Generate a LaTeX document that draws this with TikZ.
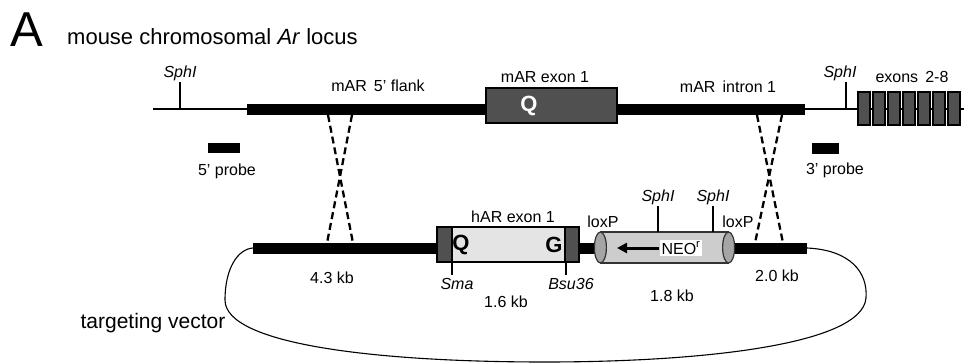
\documentclass[tikz,border=0pt]{standalone}
\usepackage{fontspec}
\setmainfont{Liberation Sans}
\usetikzlibrary{arrows.meta, positioning, calc, shapes.geometric}
\definecolor{exondark}{RGB}{80, 80, 80}
\definecolor{exonlight}{RGB}{228, 228, 228}
\definecolor{neofill}{RGB}{205, 205, 205}
\definecolor{loxfill}{RGB}{165, 165, 165}

\begin{document}
\begin{tikzpicture}[x=1pt, y=-1pt,
  every node/.style={inner sep=0pt, font=\fontsize{16}{18}\selectfont},
  heading/.style={font=\fontsize{22}{26}\selectfont, anchor=west},
  cutsite/.style={font=\fontsize{16}{18}\selectfont\itshape},
  aa/.style={font=\fontsize{22}{24}\selectfont\bfseries},
  chrom/.style={line width=2.8pt},
  arm/.style={line width=11pt},
  exon/.style={draw=black, line width=2pt, fill=exondark},
  hexon/.style={draw=black, line width=2pt, fill=exonlight, minimum width=142pt, minimum height=35pt,
    path picture={
      \fill[exondark] (path picture bounding box.north west) rectangle ([xshift=15pt]path picture bounding box.south west);
      \fill[exondark] ([xshift=-14pt]path picture bounding box.north east) rectangle (path picture bounding box.south east);
      \draw[line width=1.4pt] ([xshift=15pt]path picture bounding box.north west) -- ([xshift=15pt]path picture bounding box.south west);
      \draw[line width=1.4pt] ([xshift=-14pt]path picture bounding box.north east) -- ([xshift=-14pt]path picture bounding box.south east);}},
  neobody/.style={draw=black!80, line width=1.2pt, fill=neofill, minimum width=127pt, minimum height=31pt},
  loxend/.style={ellipse, draw=black!80, line width=1.2pt, fill=loxfill, minimum width=12pt, minimum height=31pt},
  probe/.style={fill=black},
  cuttick/.style={line width=1.7pt},
  xover/.style={line width=2.3pt, dash pattern=on 7pt off 4pt},
  neoarr/.style={-{Triangle[length=10pt, width=10pt]}, line width=3pt},
  vecloop/.style={line width=1.1pt}
]
  \useasboundingbox (0,0) rectangle (964,364);

  \node[font=\fontsize{49}{52}\selectfont] (panel) at (27,30) {A};
  \node[heading] (locus) at (67,37) {mouse chromosomal \textit{Ar} locus};

  % mouse locus
  \coordinate (m0) at (153,109);
  \coordinate (m5) at (247,109);
  \coordinate (m3) at (805,109);
  \coordinate (mend) at (964,109);
  \draw[chrom] (m0) -- (mend);
  \draw[arm] (m5) -- (m3);
  \node[exon, minimum width=131pt, minimum height=35pt] (mex1) at (551.5,105.5) {};
  \node[aa, text=white] (mq) at (529,106) {Q};
  \foreach \i in {0,...,6}
    \node[exon, minimum width=12pt, minimum height=33pt] (ex\i) at (864+15*\i,108.5) {};

  \coordinate (sph1) at (180,109);
  \node[cutsite, anchor=south] (sph1l) at (180,81.5) {SphI};
  \draw[cuttick] (sph1) -- (sph1l.south);
  \coordinate (sph2) at (846,109);
  \node[cutsite, anchor=south] (sph2l) at (840,81.5) {SphI};
  \draw[cuttick] (sph2) -- (sph2 |- sph2l.south);

  \node (flank) at (378,86) {mAR\, 5' flank};
  \node (mex1l) at (545,77) {mAR exon 1};
  \node (intron) at (728,87) {mAR\, intron 1};
  \node (ex28) at (912,77) {exons\, 2-8};

  \node[probe, minimum width=32pt, minimum height=10pt] (p5) at (224,148) {};
  \node (p5l) at (227,171) {5' probe};
  \node[probe, minimum width=27pt, minimum height=11pt] (p3) at (825.5,148.5) {};
  \node (p3l) at (835,170) {3' probe};

  % targeting vector
  \coordinate (v5) at (253,248);
  \coordinate (v3) at (807,248);
  \draw[arm] (v5) -- (v3);
  \node[hexon] (hex1) at (508,244.5) {};
  \node[aa] (hq) at (461,245) {Q};
  \node[aa] (hg) at (554,245) {G};
  \node (hex1l) at (513,217) {hAR exon 1};

  \coordinate (sma) at (452,262);
  \node[cutsite] (smal) at (457,284) {Sma};
  \draw[cuttick, line width=1.3pt, shorten >=3pt] (sma) -- (sma |- smal.north);
  \coordinate (bsu) at (566,262);
  \node[cutsite] (bsul) at (571,284) {Bsu36};
  \draw[cuttick, line width=1.3pt, shorten >=3pt] (bsu) -- (bsu |- bsul.north);

  \node[neobody] (neo) at (664.5,247.5) {};
  \node[loxend] (loxa) at (neo.west) {};
  \node[loxend] (loxb) at (neo.east) {};
  \node[fill=white, inner sep=2pt] (neotxt) at (681,248) {NEO\textsuperscript{r}};
  \coordinate (neotip) at (617,248);
  \draw[neoarr] (neotxt.west) -- (neotip);
  \node (loxal) at (603,222) {loxP};
  \node (loxbl) at (738,222) {loxP};

  \coordinate (sph3) at (658,232);
  \node[cutsite, anchor=south] (sph3l) at (658,205.5) {SphI};
  \draw[cuttick] (sph3) -- (sph3l.south);
  \coordinate (sph4) at (713,232);
  \node[cutsite, anchor=south] (sph4l) at (713,205.5) {SphI};
  \draw[cuttick] (sph4) -- (sph4l.south);

  \node (kb43) at (332,278) {4.3 kb};
  \node (kb16) at (506,302) {1.6 kb};
  \node (kb18) at (672,296) {1.8 kb};
  \node (kb20) at (777,276) {2.0 kb};

  % crossovers
  \coordinate (xa1) at (328,115);
  \coordinate (xa2) at (352,115);
  \coordinate (xb1) at (327,243);
  \coordinate (xb2) at (353,243);
  \draw[xover] (xa1) -- (xb2);
  \draw[xover] (xa2) -- (xb1);
  \coordinate (xc1) at (757,115);
  \coordinate (xc2) at (782,115);
  \coordinate (xd1) at (755,243);
  \coordinate (xd2) at (783,243);
  \draw[xover] (xc1) -- (xd2);
  \draw[xover] (xc2) -- (xd1);

  \draw[vecloop] (v3) .. controls (850,250) and (868,272) .. (866,298)
    .. controls (862,345) and (700,362) .. (545,362)
    .. controls (380,362) and (225,345) .. (225,300)
    .. controls (225,268) and (238,249) .. (v5);
  \node[font=\fontsize{21}{24}\selectfont] (tv) at (153,323) {targeting vector};
\end{tikzpicture}
\end{document}
